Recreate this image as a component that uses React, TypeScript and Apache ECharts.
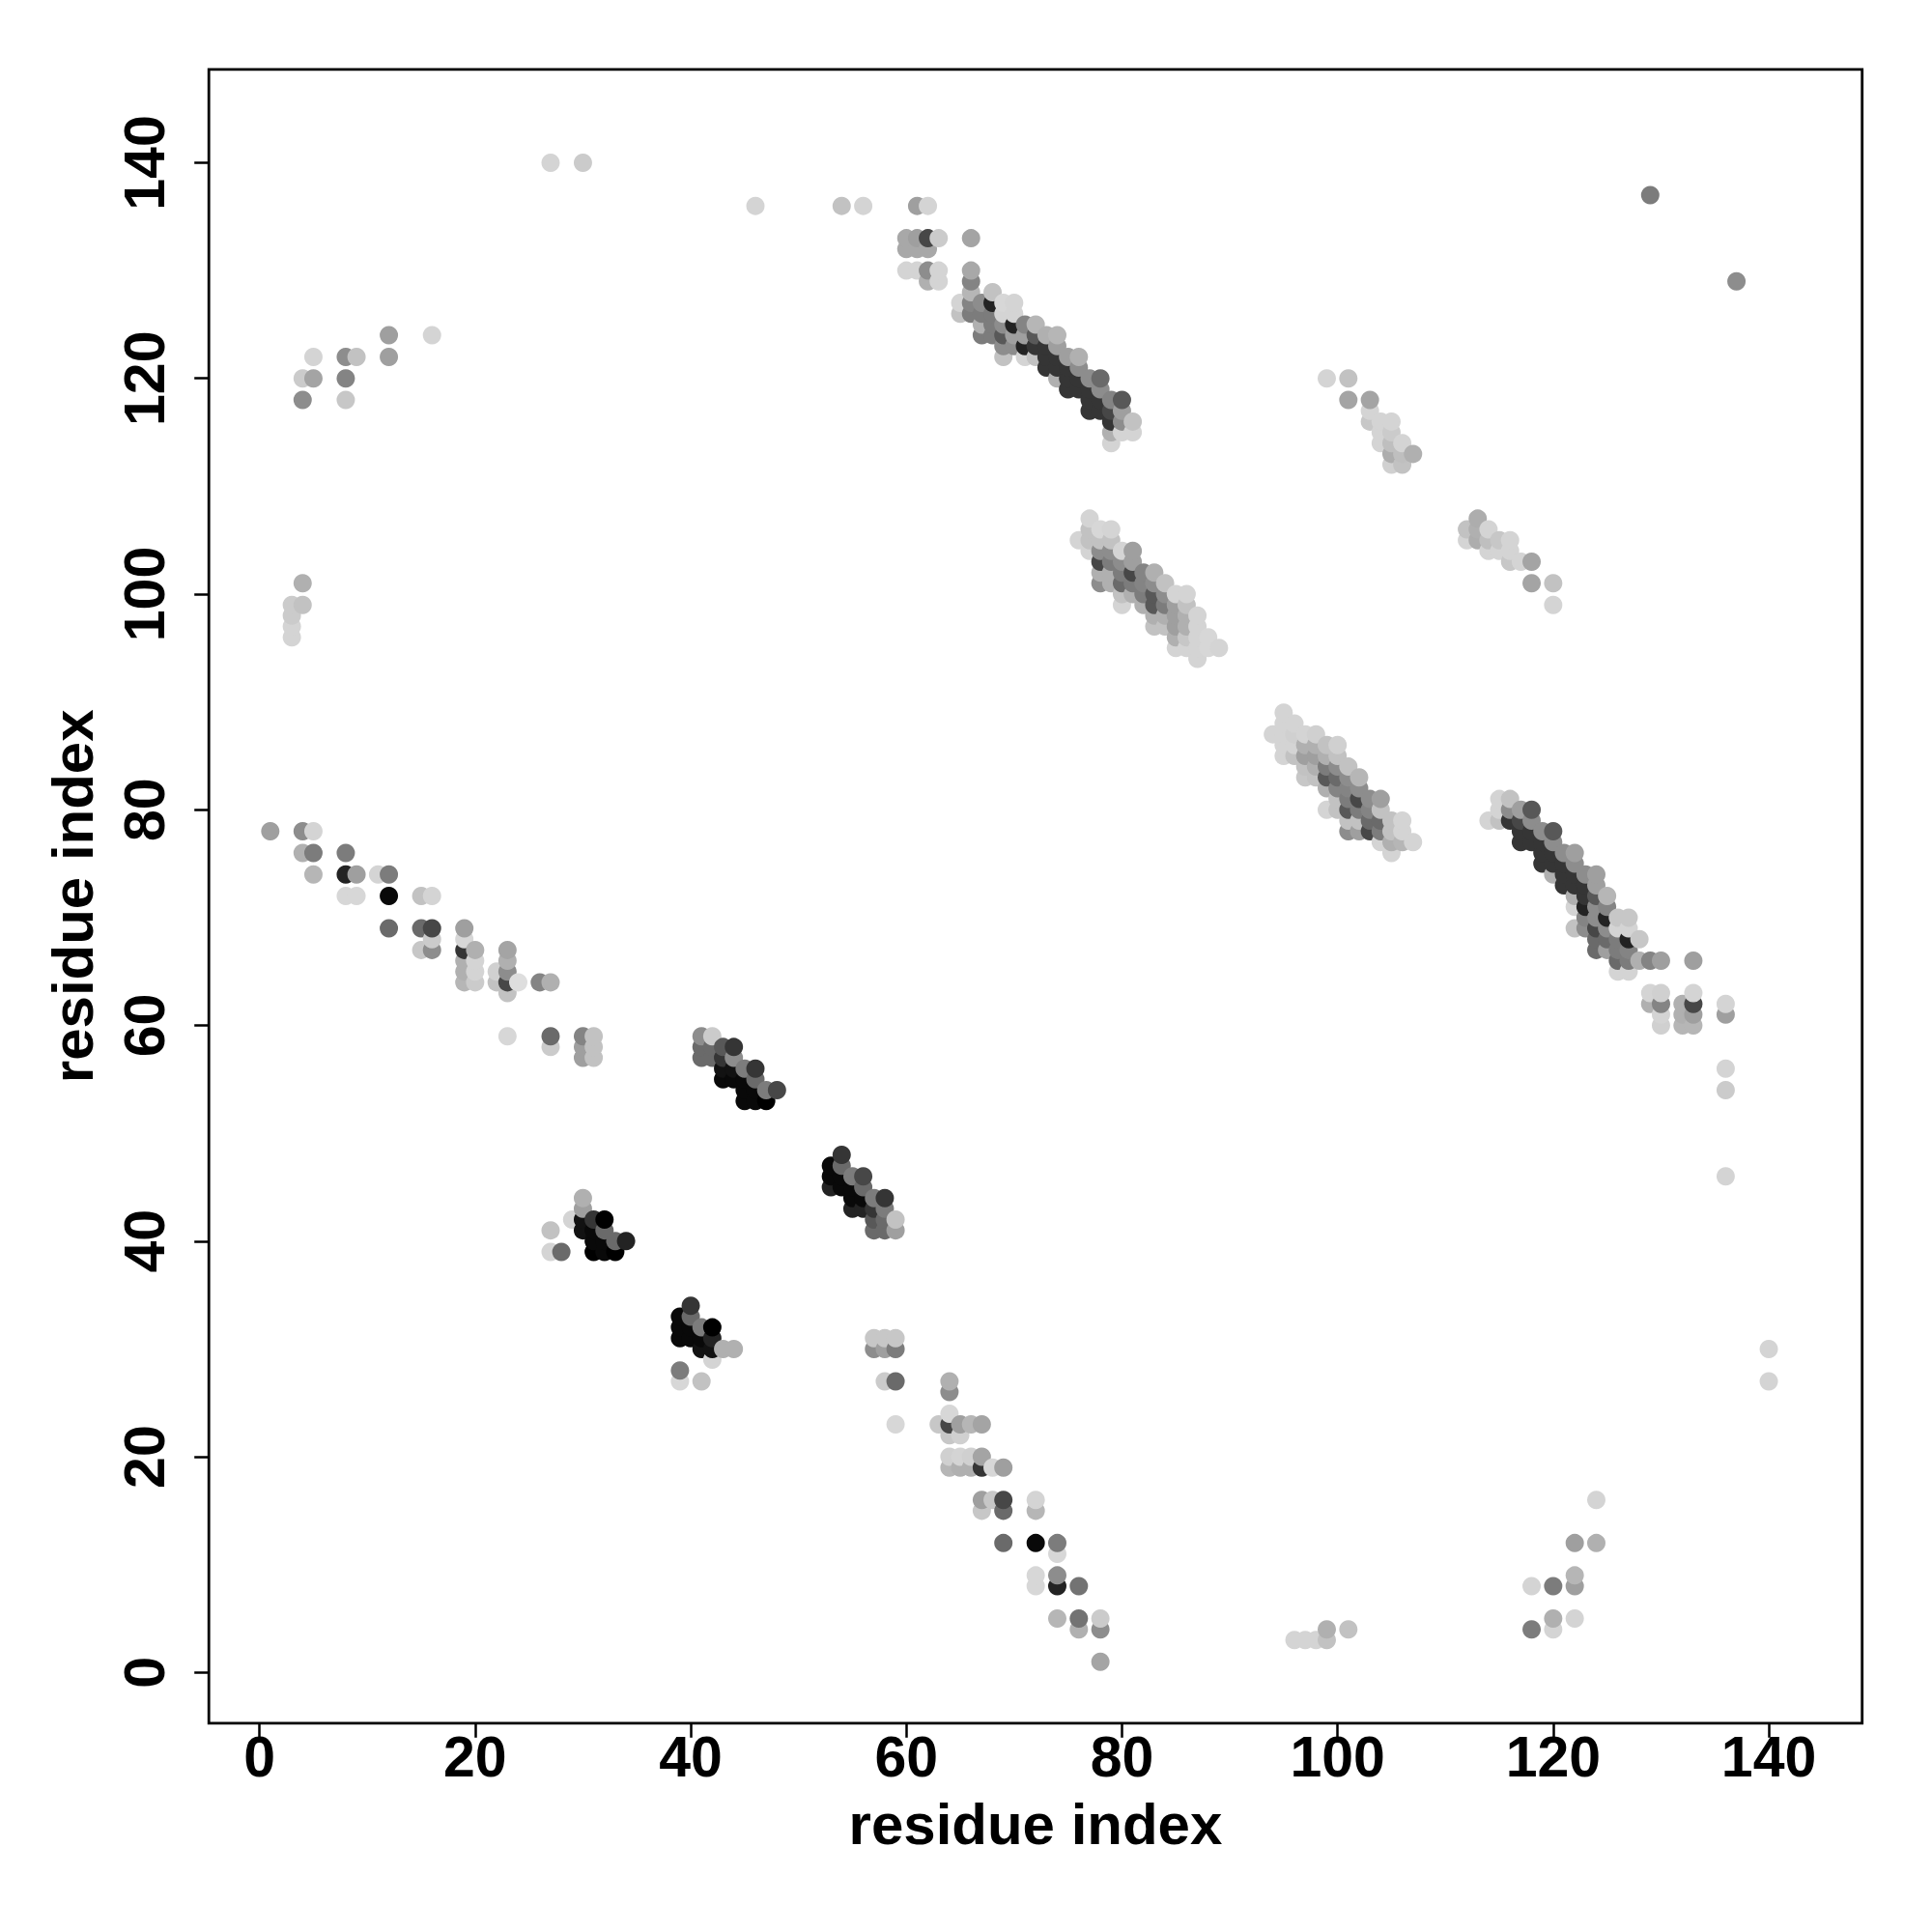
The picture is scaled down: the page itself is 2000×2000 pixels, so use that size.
import React, { useEffect, useRef } from "react";
import * as echarts from "echarts";

type P = [number, number, number];

const tickValues = [0, 20, 40, 60, 80, 100, 120, 140];
const axisTitle = "residue index";

// [residue i, residue j, contact strength on a 0..15 scale]
const sparseTop: P[] = [
  [27,140,3],[30,140,3.5],[46,136,3],[54,136,4],[56,136,3],[61,136,6],[62,136,3],[129,137,8],[137,129,7],
  [60,133,5.5],[61,133,6],[62,133,11],[63,133,3.5],[60,132,5.5],[61,132,5.5],[62,132,5.5],
  [60,130,3],[61,130,3],[62,130,7],[63,130,3],[62,129,5],[63,129,3],
];
const strandA: P[] = [
  [66,133,5.7],[66,130,5.5],[66,129,7.5],[66,128,4.7],[65,127,3],[65,126,4],[66,127,7.5],[66,126,8],
  [67,127,7],[67,126,8],[67,125,5],[67,124,8],[68,128,4],[68,127,13],[68,126,8],[68,125,8],[68,124,8],
  [69,127,2.8],[69,126,3],[69,125,7],[69,124,10],[69,123,7],[69,122,4],
  [70,127,3],[70,126,3],[70,125,13],[70,124,6],[70,123,7],
  [71,125,7.5],[71,124,6],[71,123,13],[71,122,3],
  [72,125,4.7],[72,124,10],[72,123,12],[72,122,4],
  [73,124,5],[73,123,12],[73,122,12],[73,121,12],
  [74,124,4.7],[74,123,6],[74,122,12],[74,121,12],[74,120,5],
  [75,122,6],[75,121,12],[75,120,12],[75,119,12],
  [76,122,5],[76,121,7],[76,120,12],[76,119,12],
  [77,120,7],[77,119,12],[77,118,12],[77,117,12],
  [78,120,9],[78,119,7],[78,118,12],[78,117,12],
  [79,118,7.5],[79,117,11],[79,116,12],[79,115,5],[79,114,3],
  [80,118,10],[80,117,6],[80,116,7],[80,115,3],
  [81,116,4],[81,115,3],
];
const sparseMid: P[] = [
  [99,120,3],[101,120,4],[101,118,5.7],[103,118,5.7],[103,117,3],[103,116,3.7],
  [104,116,3],[104,115,3],[104,114,3],[105,116,3],[105,115,3.5],[105,114,4.2],[105,113,5.2],[105,112,3.2],
  [106,114,3],[106,113,4.2],[106,112,4],[107,113,5],
  [112,106,4],[112,105,3],[113,107,5.2],[113,106,5],[113,105,5.2],[114,106,3],[114,105,4.2],[114,104,3],
  [115,105,3.7],[115,104,3],[116,105,3],[116,104,3],[116,103,3.7],[117,103,3],
  [118,103,5.7],[118,101,5.7],[120,101,4],[120,99,3],
];
const strandB: P[] = [
  [76,105,3],[77,107,3],[77,106,4],[77,105,4],[77,104,3],
  [78,106,2.8],[78,105,4],[78,104,7],[78,103,11],[78,102,5],[78,101,7],
  [79,106,3],[79,105,4],[79,104,7],[79,103,8],[79,102,5],[79,101,5],
  [80,104,3],[80,103,7],[80,102,8],[80,101,9],[80,100,4],[80,99,3],
  [81,104,6],[81,103,6],[81,102,11],[81,101,8],[81,100,5],
  [82,102,7.5],[82,101,7.5],[82,100,8],[82,99,5],
  [83,102,5],[83,101,7],[83,100,10],[83,99,10],[83,98,5],[83,97,4],
  [84,101,4],[84,100,7],[84,99,8],[84,98,5],[84,97,4],
  [85,100,3],[85,99,6],[85,98,6],[85,97,6],[85,96,5],[85,95,3],
  [86,100,3],[86,99,4],[86,98,5],[86,97,5],[86,96,3.7],[86,95,3],
  [87,98,3],[87,97,3],[87,96,3],[87,95,3],[87,94,3],[88,96,2.8],[88,95,2.8],[89,95,3],
];
const strandC: P[] = [
  [94,87,3],[95,89,3],[95,88,3],[95,87,3],[95,86,3],[95,85,3],
  [96,88,3],[96,87,3.2],[96,86,3],[96,85,4],
  [97,87,3],[97,86,5],[97,85,6],[97,84,4],[97,83,3.7],
  [98,87,3.2],[98,86,5],[98,85,6],[98,84,5],[98,83,4],
  [99,86,4],[99,85,5],[99,84,8],[99,83,10],[99,82,5],[99,80,3],
  [100,86,3.2],[100,85,4],[100,84,7],[100,83,9],[100,82,7.5],[100,81,4],[100,80,4],
  [101,84,4],[101,83,7],[101,82,7.5],[101,81,8],[101,80,10],[101,79,4],[101,78,7],
  [102,83,4.7],[102,82,7],[102,81,11],[102,80,8],[102,79,4],[102,78,6],
  [103,81,7],[103,80,7.5],[103,79,9],[103,78,11],
  [104,81,6],[104,80,4],[104,79,9],[104,78,8],[104,77,3],
  [105,79,4],[105,78,4],[105,77,5],[105,76,3],
  [106,79,3],[106,78,3],[106,77,4.7],[107,77,3],
];
const strandD: P[] = [
  [114,79,3],[115,81,3],[115,80,3],[115,79,4],[116,81,4],[116,80,7],[116,79,12],
  [117,80,6],[117,79,11],[117,78,12],[117,77,12],
  [118,80,10],[118,79,7],[118,78,12],[118,77,12],
  [119,78,7],[119,77,12],[119,76,12],[119,75,12],
  [120,78,10],[120,77,7],[120,76,12],[120,75,12],[120,74,5],
  [121,76,7],[121,75,12],[121,74,12],[121,73,12],
  [122,76,6],[122,75,7],[122,74,12],[122,73,12],[122,72,5],[122,71,3],[122,69,4],
  [123,74,7],[123,73,12],[123,72,12],[123,71,13],[123,70,7.5],[123,69,7],
  [124,74,6],[124,73,6],[124,72,10],[124,71,7],[124,70,7],[124,69,11],[124,68,9],[124,67,9],
  [125,72,4.7],[125,71,7.5],[125,70,13],[125,69,7],[125,68,9],[125,67,6],
  [126,70,3.7],[126,69,3],[126,68,8],[126,67,8],[126,66,9],[126,65,3],
  [127,70,3.7],[127,69,3],[127,68,13],[127,67,7.5],[127,66,8],[127,65,3],
  [128,68,3.7],[128,66,5],[129,66,7.5],[130,66,6],[133,66,6],
  [129,63,3],[130,63,3.2],[129,62,5],[130,62,7.5],[130,61,3],[130,60,3.2],
  [132,62,5],[132,61,5],[132,60,4.7],[133,63,3],[133,62,11],[133,61,6],[133,60,4.7],
  [136,62,3],[136,61,6],[136,56,3],[136,54,3.5],[136,46,3],
];
const strandTail: P[] = [
  [1,78,6],[4,78,7],[5,78,3],[4,76,5],[5,76,8],[8,76,8],[5,74,4.7],[8,74,13],[9,74,6],[11,74,3],[12,74,8],
  [8,72,2.8],[9,72,2.8],[12,72,14.5],[15,72,4],[16,72,3],[12,69,9],[15,69,9],[16,69,11],[19,69,6],
  [16,68,3.5],[15,67,3.7],[16,67,7],[19,68,2.8],[19,67,12],[20,67,5],[19,66,5],[20,66,3],[19,65,5],[20,65,3],
  [19,64,4.7],[20,64,3.5],[23,67,5.7],[23,66,5],[23,65,7],[22,65,3.2],[22,64,4],[23,64,11],[24,64,2.4],[23,63,4],
  [26,64,7.5],[27,64,5],[23,59,2.8],[27,59,9],[27,58,3.5],[30,59,7.5],[31,59,4],[30,58,6],[31,58,4],[30,57,6],[31,57,4],
];
const helixBlocks: P[] = [
  [41,59,7],[42,59,3.5],[41,58,9],[41,57,9],[42,58,9],[42,57,9],[43,58,10],[44,58,12],[43,57,12],[43,56,14],[43,55,14.5],
  [44,57,7],[44,56,14],[44,55,14.5],[45,56,8],[46,56,12],[45,55,14.5],[45,54,14.5],[45,53,14.5],[46,55,9],[46,54,14.5],[46,53,14.5],
  [47,54,8],[48,54,11],[47,53,15],
  [30,44,5],[30,43,6],[29,42,3],[27,41,4],[27,39,3],[28,39,9],[30,42,14],[30,41,14],[31,42,12],[32,42,15],[31,41,14.5],[31,40,14.5],[31,39,15],
  [32,41,9],[32,40,14.5],[32,39,14.5],[33,40,9],[34,40,13],[33,39,15],
  [40,34,12],[39,33,14.5],[40,33,9],[39,32,14.5],[40,32,14.5],[39,31,14.5],[40,31,14.5],[41,32,8],[42,32,15],[41,31,14.5],[42,31,13],[41,30,14],[42,30,14],
  [43,30,5],[44,30,5],[42,29,3],[39,28,8],[39,27,2.8],[41,27,4],
  [53,47,14.5],[53,46,14.5],[53,45,13],[54,48,12],[54,47,9],[54,46,14.5],[54,45,14.5],[55,46,8],[55,45,14.5],[55,44,14.5],[55,43,13],
  [56,46,11],[56,45,9],[56,44,14.5],[56,43,13],[57,44,8],[57,43,12],[57,42,10],[57,41,9],[58,44,12],[58,43,8],[58,42,9],[58,41,9],[59,42,4],[59,41,6],
  [57,31,3.7],[58,31,3.7],[59,31,3.7],[57,30,7],[58,30,6],[59,30,8],[58,27,3.5],[59,27,9],[59,23,2.8],
];
const lowerChain: P[] = [
  [64,27,5],[64,26,7],[64,24,2.8],[64,23,11],[63,23,3.7],[65,23,6],[66,23,4.7],[67,23,5.7],[64,22,3.7],[65,22,3.2],
  [64,20,3.2],[65,20,3],[66,20,3.2],[67,20,5.7],[64,19,4.7],[65,19,5],[66,19,5],[67,19,12],[68,19,2.8],[69,19,6],
  [67,16,6],[68,16,3.7],[69,16,11],[67,15,3.7],[69,15,9],[72,16,3],[72,15,4.7],[69,12,9],[72,12,14.5],[74,12,8],[74,11,2.8],
  [72,9,2.8],[72,8,2.8],[74,9,7],[74,8,13],[76,8,8.5],[74,5,4.7],[76,5,8.5],[76,4,5],[78,5,3.5],[78,4,7],[78,1,5.7],
  [96,3,3],[97,3,3],[98,3,3],[99,4,5],[99,3,4],[101,4,4],
  [118,8,3],[118,4,8],[120,8,8],[120,5,5],[120,4,3],[122,12,6],[122,9,4.7],[122,8,6],[122,5,3],[124,16,3],[124,12,5],
  [140,30,3],[140,27,3],
];
const upperLeft: P[] = [
  [3,99,3.5],[3,98,3.5],[3,97,3],[3,96,3],[4,101,5],[4,99,4],
  [4,120,3.5],[5,122,3],[5,120,5.7],[4,118,7],[8,122,7],[9,122,4],[8,120,7.5],[8,118,3.7],[12,124,6],[12,122,6],[16,124,3],
];

const contacts: P[] = [
  ...sparseTop, ...strandA, ...sparseMid, ...strandB, ...strandC, ...strandD,
  ...strandTail, ...helixBlocks, ...lowerChain, ...upperLeft,
].sort((a, b) => a[0] - b[0] || a[1] - b[1]);

const axisFont = { color: "#000", fontFamily: "Liberation Sans", fontWeight: "bold" as const };

const makeAxis = (isY: boolean) => ({
  type: "value" as const,
  min: -4.7,
  max: 148.66,
  name: axisTitle,
  nameLocation: "middle" as const,
  nameGap: isY ? 111 : 75,
  nameTextStyle: { ...axisFont, fontSize: 60 },
  splitLine: { show: false },
  axisLine: { show: false, onZero: false },
  axisTick: { show: true, length: 15, lineStyle: { color: "#000", width: 2.5 }, customValues: tickValues },
  axisLabel: { ...axisFont, fontSize: 59, margin: isY ? 37 : 6, rotate: isY ? 90 : 0, customValues: tickValues, hideOverlap: false },
});

export default function App() {
  const ref = useRef<HTMLDivElement>(null);
  useEffect(() => {
    const chart = echarts.init(ref.current!, null, { renderer: "svg" });
    chart.setOption({
      animation: false,
      backgroundColor: "#fff",
      grid: { left: 216.2, top: 71.8, width: 1711.5, height: 1712, show: true, borderColor: "#000", borderWidth: 2.8, backgroundColor: "transparent" },
      xAxis: makeAxis(false),
      yAxis: makeAxis(true),
      visualMap: { show: false, type: "continuous", dimension: 2, min: 0.55, max: 15, inRange: { color: ["#ffffff", "#000000"] } },
      series: [{ type: "scatter", data: contacts, symbol: "circle", symbolSize: 19, itemStyle: { opacity: 1, borderWidth: 0 }, silent: true, large: false }],
    });
    return () => chart.dispose();
  }, []);
  return <div ref={ref} style={{ position: "absolute", left: 0, top: 0, width: 2000, height: 2000 }} />;
}
